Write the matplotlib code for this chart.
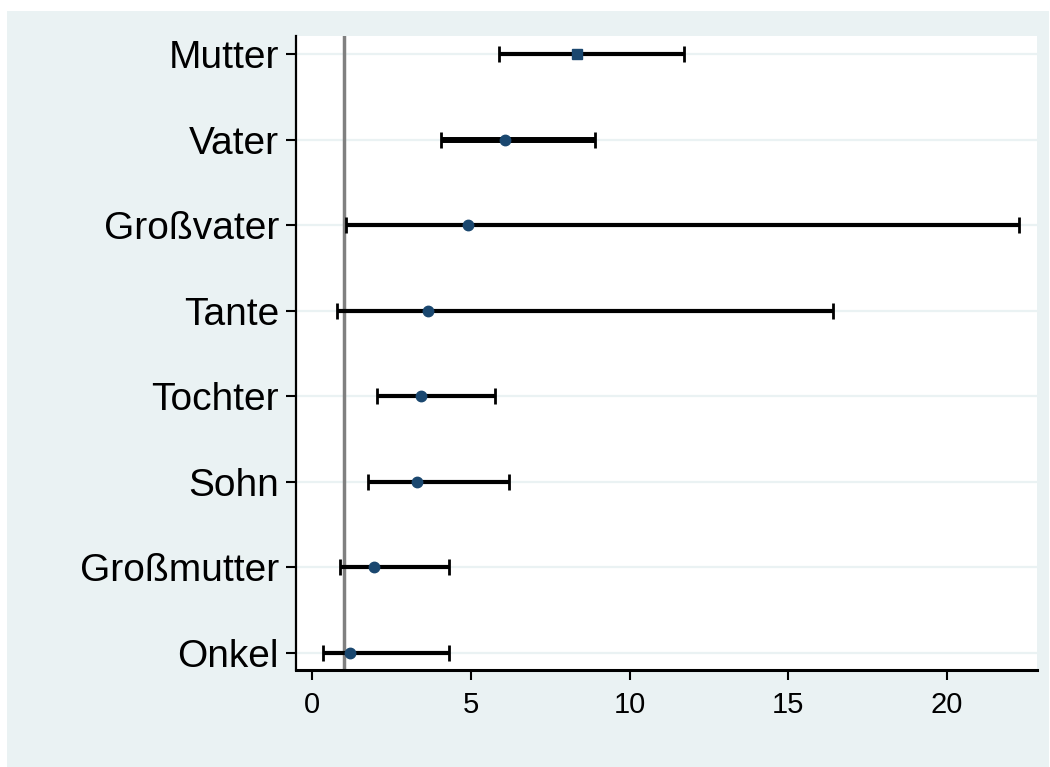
import matplotlib
matplotlib.use("Agg")
import matplotlib.pyplot as plt
from matplotlib.patches import Rectangle

# Odds ratios with 95% CI
labels = ["Mutter", "Vater", "Großvater", "Tante", "Tochter", "Sohn", "Großmutter", "Onkel"]
estimate = [8.34, 6.07, 4.90, 3.65, 3.42, 3.31, 1.94, 1.18]
ci_low = [5.88, 4.05, 1.08, 0.78, 2.04, 1.75, 0.86, 0.35]
ci_high = [11.71, 8.90, 22.26, 16.41, 5.75, 6.20, 4.31, 4.31]
xticks = [0, 5, 10, 15, 20]

bg = "#eaf2f3"
navy = "#1a476f"

fig = plt.figure(figsize=(10.5, 7.67), dpi=100, facecolor="white")
# light stata-style outer region, behind the axes
fig.patches.append(Rectangle((7 / 1050, 0), 1042 / 1050, 756 / 767,
                             transform=fig.transFigure, facecolor=bg,
                             edgecolor="none", zorder=-10))

ax = fig.add_axes([295.7 / 1050, 97 / 767, (1037 - 295.7) / 1050, (670 - 36) / 767])
ax.set_zorder(5)
ax.set_facecolor("white")

n = len(labels)
ypos = [n - i for i in range(n)]

for y in ypos:
    ax.axhline(y, color=bg, lw=1.6, zorder=1)
ax.axvline(1, color="#808080", lw=2.5, zorder=2)

for i in range(n):
    lw = 4.3 if labels[i] == "Vater" else 3.0
    ax.errorbar(estimate[i], ypos[i],
                xerr=[[estimate[i] - ci_low[i]], [ci_high[i] - estimate[i]]],
                fmt="none", ecolor="black", elinewidth=lw, capsize=5.5,
                capthick=2.0, zorder=3)
    mk = "s" if labels[i] == "Mutter" else "o"
    ax.plot(estimate[i], ypos[i], marker=mk, color=navy, markersize=7.5,
            linestyle="none", zorder=4)

ax.set_xlim(-0.52, 22.83)
ax.set_ylim(0.80, 8.21)
ax.set_yticks(ypos)
ax.set_yticklabels(labels, fontsize=28, family="Liberation Sans")
ax.set_xticks(xticks)
ax.set_xticklabels([str(t) for t in xticks], fontsize=21, family="Liberation Sans")

for s in ["top", "right"]:
    ax.spines[s].set_visible(False)
ax.spines["left"].set_linewidth(1.6)
ax.spines["bottom"].set_linewidth(2.2)
ax.tick_params(axis="y", length=7, width=1.5, pad=5)
ax.tick_params(axis="x", length=7, width=1.5, pad=8)

fig.savefig("out.png", dpi=100, facecolor="white")
